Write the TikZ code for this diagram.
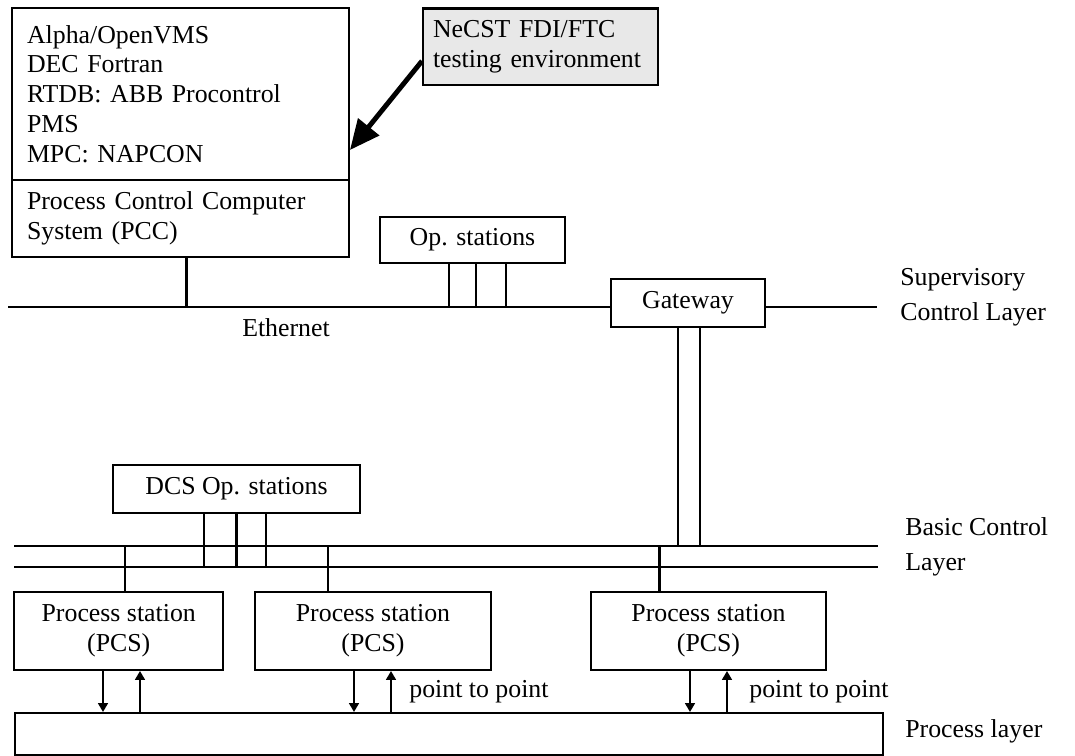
\documentclass[tikz,border=0pt]{standalone}
\usepackage{fontspec}
\setmainfont{Liberation Serif}
\usepackage{tikz}
\usetikzlibrary{calc}
\usetikzlibrary{positioning,arrows.meta}

\begin{document}
\begin{tikzpicture}[
        x=0.02cm,y=-0.02cm,
        BoxCfg/.style={
            draw,
            line width=1.15pt,
            inner sep=0pt,
            align=center,
            font=\fontsize{14.7}{17}\selectfont
        },
        TxtBoxCfg/.style={
            BoxCfg,
            align=left,
            inner xsep=0.3cm,
            text width=#1
        },
        LabelCfg/.style={
            inner sep=0pt,
            align=left,
            font=\fontsize{14.7}{20}\selectfont
        },
        BusCfg/.style={line width=1.15pt},
        DownCfg/.style={line width=1.15pt,-{Triangle[length=5pt,width=5.5pt]}},
        UpCfg/.style={line width=1.15pt,{Triangle[length=5pt,width=5.5pt]}-}
    ]
    \useasboundingbox (0,0) rectangle (1075,756);
    
    %PCC system
    \node[TxtBoxCfg=6.14cm,minimum height=3.44cm] (pcctop) at (180.5,94) {Alpha/OpenVMS\\DEC Fortran\\RTDB: ABB Procontrol\\PMS\\MPC: NAPCON};
    \node[TxtBoxCfg=6.14cm,minimum height=1.54cm,below=-1.15pt of pcctop] (pccbot) {Process Control Computer\\System (PCC)};
    
    %testing environment
    \node[TxtBoxCfg=4.3cm,inner xsep=0.2cm,fill=gray!18,minimum height=1.54cm] (necst) at (540.5,47) {NeCST FDI/FTC\\testing environment};
    \draw[line width=2.8pt,-{Triangle[length=17pt,width=15pt]}] ($(necst.west)+(0,14)$)--($(pcctop.east)+(0,56)$);
    
    %supervisory layer
    \node[BoxCfg,minimum width=3.7cm,minimum height=0.92cm] (opst) at (472.5,240) {Op. stations};
    \node[BoxCfg,minimum width=3.08cm,minimum height=0.96cm] (gw) at (688,303) {Gateway};
    \node[LabelCfg] (ethlbl) at (286,328) {Ethernet};
    \node[LabelCfg,anchor=west] (suplbl) at (900,297) {Supervisory\\Control Layer};
    
    %basic control layer
    \node[BoxCfg,minimum width=4.94cm,minimum height=0.96cm] (dcs) at (236.5,489) {DCS Op. stations};
    \node[BoxCfg,minimum width=4.19cm,minimum height=1.56cm] (pcs1) at (118.75,631) {Process station\\(PCS)};
    \node[BoxCfg,minimum width=4.72cm,minimum height=1.56cm] (pcs2) at (373,631) {Process station\\(PCS)};
    \node[BoxCfg,minimum width=4.7cm,minimum height=1.56cm] (pcs3) at (708.5,631) {Process station\\(PCS)};
    \node[LabelCfg,anchor=west] (baslbl) at (905,547) {Basic Control\\Layer};
    
    %process layer
    \node[BoxCfg,minimum width=17.36cm,minimum height=0.84cm] (proc) at (449,734) {};
    \node[LabelCfg,anchor=west] (prclbl) at (905,731) {Process layer};
    \node[LabelCfg,anchor=west] (p2p2) at (409,692) {point to point};
    \node[LabelCfg,anchor=west] (p2p3) at (749,692) {point to point};
    
    %buses
    \coordinate (ethL) at (8,307);
    \coordinate (ethR) at (877,307);
    \coordinate (busAL) at (14,546);
    \coordinate (busAR) at (878,546);
    \coordinate (busBL) at (14,567);
    \coordinate (busBR) at (878,567);
    \draw[BusCfg] (ethL)--(ethL-|gw.west);
    \draw[BusCfg] (ethR-|gw.east)--(ethR);
    \draw[BusCfg] (busAL)--(busAR);
    \draw[BusCfg] (busBL)--(busBR);
    
    %connections
    \draw[BusCfg] ($(pccbot.south)+(6,0)$)coordinate (t)--(t|-ethL);
    \foreach \d in {-23.5,3.5,33.5}
        \draw[BusCfg] ($(opst.south)+(\d,0)$)coordinate (t)--(t|-ethL);
    \foreach \d in {-10,12}
        \draw[BusCfg] ($(gw.south)+(\d,0)$)coordinate (t)--(t|-busAL);
    \foreach \d in {-32.5,0,29.5}
        \draw[BusCfg] ($(dcs.south)+(\d,0)$)coordinate (t)--(t|-busBL);
    \foreach \n/\d in {pcs1/6.25,pcs2/-45,pcs3/-49}
        \draw[BusCfg] ($(\n.north)+(\d,0)$)coordinate (t)--(t|-busAL);
    \foreach \n/\a/\b in {pcs1/-15.75/21.25,pcs2/-19/18,pcs3/-18.5/18.5}{
        \draw[DownCfg] ($(\n.south)+(\a,0)$)coordinate (t)--(t|-proc.north);
        \draw[UpCfg] ($(\n.south)+(\b,0)$)coordinate (t)--(t|-proc.north);
    }
    
\end{tikzpicture}
\end{document}
